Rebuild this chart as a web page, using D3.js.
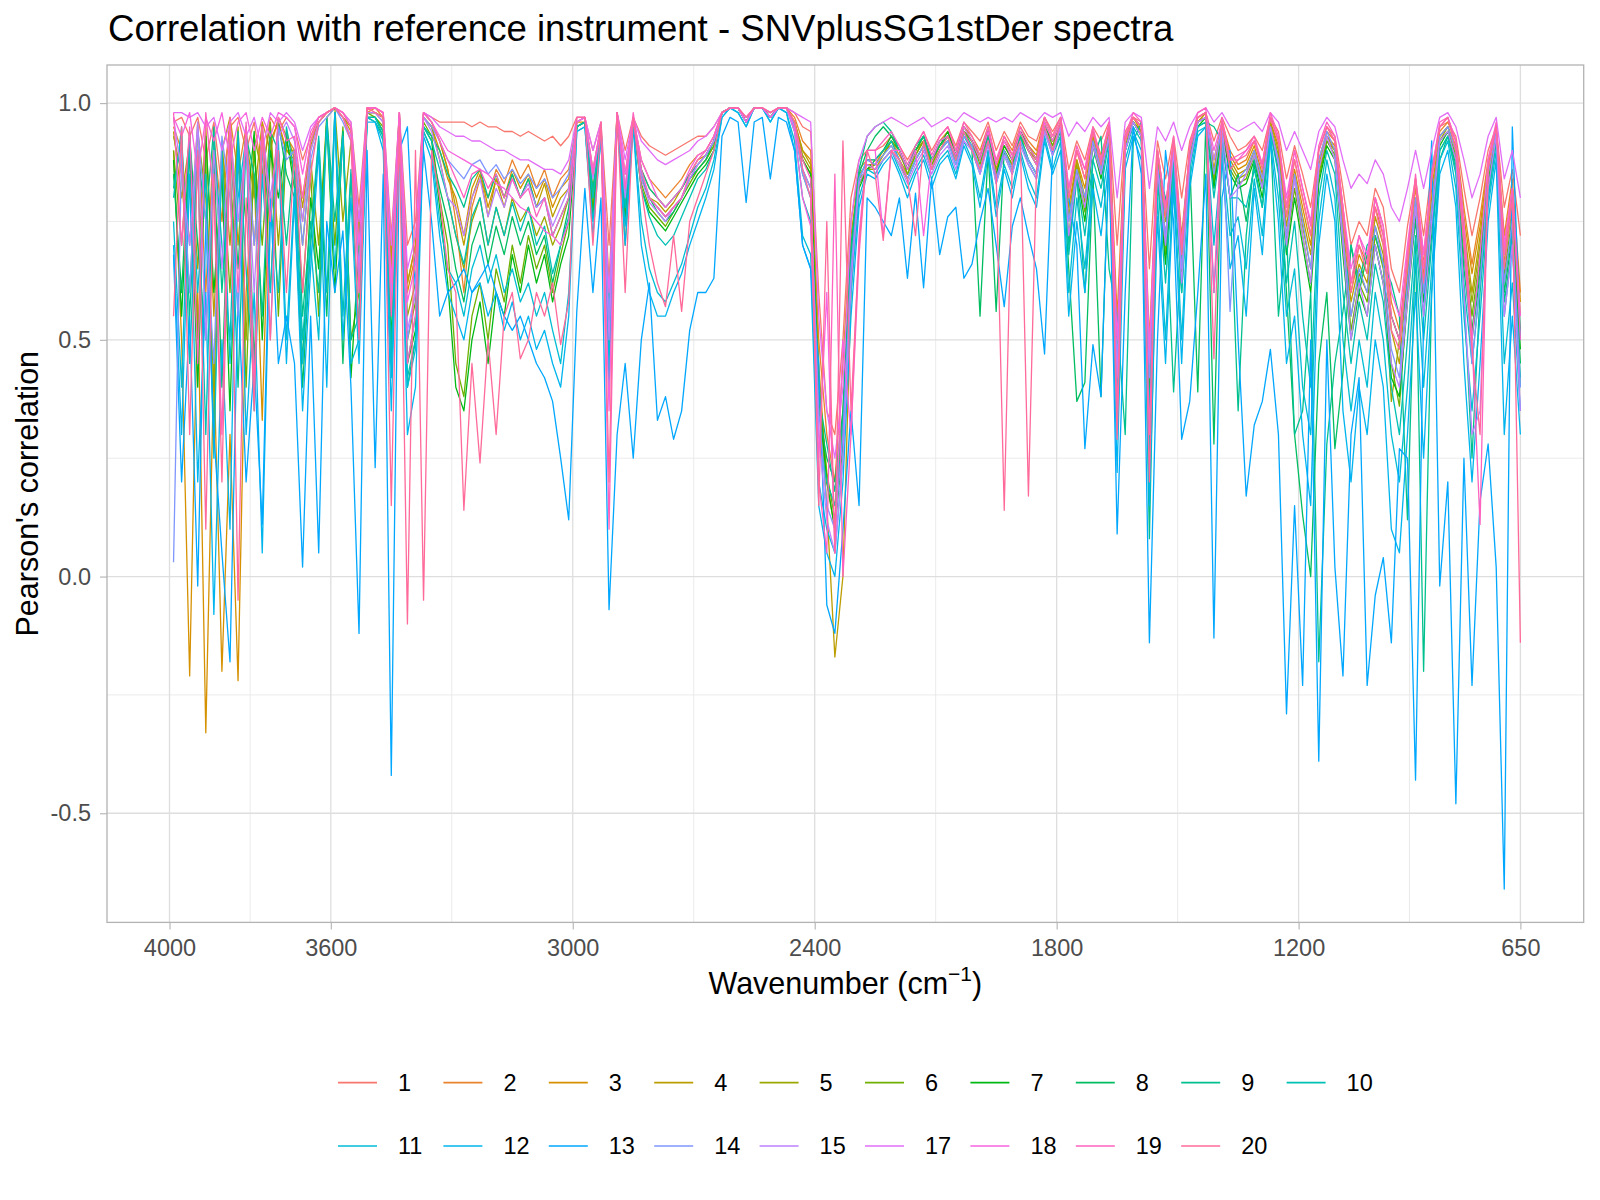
<!DOCTYPE html>
<html><head><meta charset="utf-8">
<script src="https://cdn.jsdelivr.net/npm/d3@7"></script>
<style>body{margin:0;background:#fff} text{font-family:"Liberation Sans",Arial,Helvetica,sans-serif}</style>
</head><body><svg id="chart" width="1600" height="1200"></svg>
<script>
// ---------------- DATA ----------------
const wavenumber = [
3990,3970,3950,3930,3910,3890,3870,3850,3830,3810,3790,3770,3750,3730,3710,
3690,3670,3650,3630,3610,3590,3570,3550,3530,3510,3490,3470,3450,3430,3410,3390,3370,3350,3330,3310,
3290,3270,3250,3230,3210,3190,3170,3150,3130,3110,3090,3070,3050,3030,3010,
2990,2970,2950,2930,2910,2890,2870,2850,
2830,2810,2790,2770,2750,2730,2710,2690,2670,2650,
2630,2610,2590,2570,2550,2530,2510,2490,2470,2450,2430,2410,
2390,2370,2350,2330,2310,2290,2270,
2250,2230,2210,2190,2170,2150,2130,2110,2090,2070,2050,2030,2010,1990,1970,1950,1930,1910,1890,1870,1850,1830,1810,
1790,1770,1750,1730,1710,1690,1670,1650,1630,1610,1590,1570,1550,1530,1510,1490,1470,1450,1430,1410,1390,1370,1350,1330,1310,1290,1270,1250,1230,1210,
1190,1170,1150,1130,1110,1090,1070,1050,1030,1010,990,970,950,930,910,890,870,850,830,810,790,770,750,730,710,690,670,650];

const r1 = [0.96,0.97,0.93,0.97,0.88,0.96,0.82,0.95,0.97,0.9,0.96,0.85,0.97,0.94,0.97,
0.95,0.88,0.93,0.97,0.98,0.99,0.98,0.96,0.78,0.99,0.99,0.98,0.72,0.98,0.7,0.75,0.98,0.97,0.96,0.96,
0.96,0.96,0.95,0.96,0.95,0.95,0.94,0.94,0.93,0.94,0.93,0.92,0.93,0.91,0.93,
0.97,0.97,0.9,0.96,0.7,0.98,0.9,0.97,
0.93,0.91,0.9,0.89,0.9,0.91,0.92,0.93,0.93,0.95,
0.98,0.99,0.99,0.97,0.99,0.99,0.98,0.99,0.99,0.98,0.95,0.94,
0.6,0.35,0.3,0.5,0.8,0.88,0.9,
0.9,0.91,0.93,0.91,0.88,0.91,0.94,0.9,0.93,0.95,0.91,0.96,0.94,0.92,0.96,0.9,0.94,0.91,0.96,0.93,0.92,0.97,0.94,
0.97,0.86,0.92,0.88,0.95,0.92,0.96,0.7,0.94,0.97,0.96,0.65,0.92,0.84,0.93,0.8,0.92,0.97,0.98,0.92,0.97,0.93,0.9,0.91,0.93,0.9,0.97,0.94,0.84,0.91,
0.85,0.78,0.9,0.95,0.93,0.82,0.7,0.75,0.72,0.82,0.78,0.65,0.6,0.74,0.84,0.72,0.86,0.95,0.96,0.93,0.82,0.72,0.8,0.9,0.95,0.78,0.86,0.72];

const r2 = [0.95,0.9,0.7,0.96,0.6,0.93,0.75,0.97,0.85,0.95,0.7,0.96,0.9,0.97,0.93,
0.9,0.8,0.92,0.96,0.98,0.99,0.97,0.95,0.72,0.98,0.99,0.97,0.68,0.97,0.62,0.7,0.98,0.96,0.92,0.86,
0.75,0.6,0.78,0.84,0.8,0.86,0.83,0.88,0.84,0.87,0.82,0.86,0.8,0.84,0.86,
0.96,0.97,0.86,0.95,0.62,0.98,0.85,0.97,
0.88,0.84,0.82,0.8,0.82,0.84,0.87,0.89,0.9,0.93,
0.98,0.99,0.99,0.96,0.99,0.99,0.97,0.99,0.99,0.97,0.92,0.9,
0.5,0.3,0.2,0.45,0.75,0.86,0.88,
0.88,0.9,0.92,0.89,0.86,0.9,0.93,0.88,0.92,0.94,0.9,0.95,0.93,0.9,0.95,0.87,0.93,0.9,0.95,0.92,0.9,0.97,0.93,
0.97,0.8,0.9,0.84,0.94,0.89,0.95,0.55,0.93,0.97,0.95,0.5,0.9,0.78,0.92,0.72,0.9,0.97,0.98,0.88,0.96,0.9,0.87,0.88,0.92,0.87,0.97,0.92,0.78,0.88,
0.8,0.72,0.88,0.94,0.92,0.78,0.62,0.7,0.66,0.8,0.74,0.58,0.52,0.68,0.82,0.68,0.84,0.94,0.96,0.92,0.78,0.66,0.76,0.88,0.95,0.72,0.84,0.6];

const r3 = [0.9,0.5,-0.21,0.6,-0.33,0.45,-0.2,0.3,-0.22,0.6,0.85,0.33,0.92,0.96,0.9,
0.88,0.75,0.9,0.96,0.98,0.99,0.97,0.94,0.7,0.98,0.98,0.97,0.65,0.97,0.6,0.68,0.97,0.95,0.9,0.84,
0.8,0.72,0.82,0.86,0.78,0.84,0.8,0.86,0.82,0.85,0.8,0.84,0.78,0.82,0.84,
0.96,0.96,0.78,0.95,0.55,0.97,0.7,0.97,
0.86,0.82,0.8,0.78,0.8,0.82,0.85,0.88,0.89,0.92,
0.98,0.99,0.99,0.96,0.99,0.99,0.97,0.99,0.99,0.96,0.9,0.88,
0.45,0.2,0.1,0.35,0.72,0.85,0.87,
0.87,0.9,0.91,0.88,0.85,0.89,0.92,0.87,0.91,0.93,0.89,0.94,0.92,0.89,0.94,0.86,0.92,0.89,0.94,0.91,0.89,0.96,0.92,
0.96,0.78,0.88,0.82,0.93,0.88,0.95,0.5,0.92,0.97,0.94,0.45,0.89,0.75,0.91,0.7,0.89,0.96,0.98,0.86,0.96,0.89,0.86,0.87,0.91,0.85,0.96,0.91,0.76,0.86,
0.78,0.7,0.87,0.93,0.91,0.76,0.6,0.68,0.64,0.78,0.72,0.55,0.5,0.66,0.8,0.66,0.82,0.93,0.95,0.91,0.76,0.64,0.74,0.87,0.94,0.7,0.82,0.58];

const r4 = [0.94,0.8,0.92,0.65,0.95,0.55,0.9,0.97,0.7,0.93,0.8,0.96,0.6,0.95,0.9,
0.9,0.78,0.91,0.96,0.98,0.99,0.97,0.95,0.74,0.98,0.98,0.97,0.66,0.98,0.62,0.7,0.98,0.96,0.92,0.86,
0.78,0.7,0.8,0.85,0.76,0.84,0.78,0.85,0.8,0.84,0.78,0.83,0.76,0.8,0.82,
0.96,0.97,0.82,0.95,0.58,0.98,0.8,0.97,
0.85,0.8,0.79,0.77,0.79,0.82,0.85,0.87,0.89,0.92,
0.98,0.99,0.99,0.96,0.99,0.99,0.97,0.99,0.99,0.96,0.9,0.87,
0.4,0.15,-0.17,0.0,0.6,0.84,0.86,
0.86,0.89,0.92,0.9,0.86,0.9,0.92,0.88,0.91,0.93,0.89,0.94,0.92,0.88,0.94,0.86,0.91,0.88,0.94,0.9,0.88,0.96,0.92,
0.96,0.76,0.88,0.8,0.93,0.87,0.94,0.48,0.92,0.96,0.94,0.42,0.88,0.72,0.9,0.68,0.89,0.96,0.98,0.85,0.95,0.88,0.85,0.86,0.9,0.84,0.96,0.9,0.74,0.85,
0.76,0.68,0.86,0.93,0.9,0.74,0.58,0.66,0.62,0.76,0.7,0.52,0.45,0.64,0.79,0.64,0.8,0.93,0.95,0.9,0.74,0.6,0.72,0.86,0.94,0.68,0.8,0.55];

const r5 = [0.93,0.85,0.6,0.94,0.8,0.4,0.92,0.7,0.95,0.5,0.93,0.85,0.96,0.7,0.94,
0.88,0.7,0.88,0.7,0.97,0.99,0.75,0.92,0.65,0.98,0.98,0.96,0.6,0.97,0.55,0.62,0.97,0.95,0.88,0.8,
0.72,0.65,0.75,0.8,0.7,0.78,0.72,0.8,0.75,0.78,0.72,0.76,0.7,0.74,0.8,
0.95,0.96,0.8,0.94,0.52,0.97,0.78,0.96,
0.84,0.8,0.78,0.76,0.78,0.8,0.84,0.86,0.88,0.91,
0.98,0.99,0.99,0.96,0.99,0.99,0.97,0.99,0.99,0.96,0.89,0.86,
0.42,0.2,0.15,0.32,0.68,0.83,0.86,
0.86,0.88,0.9,0.87,0.84,0.88,0.91,0.86,0.9,0.92,0.88,0.93,0.91,0.88,0.93,0.85,0.9,0.87,0.93,0.9,0.87,0.95,0.91,
0.96,0.75,0.87,0.79,0.92,0.86,0.94,0.45,0.91,0.96,0.94,0.4,0.88,0.7,0.9,0.66,0.88,0.96,0.97,0.84,0.95,0.87,0.84,0.85,0.9,0.83,0.95,0.89,0.72,0.84,
0.74,0.65,0.85,0.92,0.9,0.72,0.55,0.64,0.6,0.74,0.68,0.37,0.5,0.62,0.78,0.62,0.78,0.92,0.95,0.9,0.72,0.58,0.7,0.85,0.93,0.66,0.78,0.52];

const r6 = [0.9,0.7,0.94,0.5,0.88,0.3,0.9,0.6,0.93,0.4,0.9,0.7,0.95,0.55,0.92,
0.85,0.6,0.85,0.55,0.97,0.7,0.95,0.5,0.6,0.98,0.97,0.95,0.55,0.96,0.5,0.58,0.96,0.93,0.8,0.7,
0.45,0.38,0.55,0.62,0.5,0.65,0.58,0.7,0.62,0.72,0.65,0.7,0.6,0.68,0.75,
0.95,0.96,0.78,0.94,0.5,0.97,0.76,0.96,
0.83,0.78,0.76,0.74,0.77,0.8,0.83,0.86,0.88,0.91,
0.98,0.99,0.99,0.96,0.99,0.99,0.97,0.99,0.99,0.95,0.88,0.85,
0.4,0.22,0.12,0.3,0.66,0.83,0.86,
0.87,0.89,0.92,0.9,0.85,0.89,0.92,0.87,0.9,0.93,0.88,0.94,0.92,0.87,0.94,0.84,0.9,0.87,0.94,0.9,0.87,0.95,0.91,
0.95,0.72,0.86,0.77,0.92,0.85,0.93,0.42,0.9,0.96,0.93,0.38,0.87,0.68,0.89,0.64,0.88,0.96,0.97,0.83,0.94,0.86,0.83,0.84,0.89,0.82,0.95,0.88,0.7,0.82,
0.72,0.62,0.84,0.92,0.89,0.7,0.52,0.62,0.58,0.72,0.65,0.45,0.36,0.6,0.77,0.6,0.76,0.92,0.94,0.89,0.7,0.55,0.68,0.84,0.93,0.64,0.76,0.5];

const r7 = [0.88,0.55,0.9,0.4,0.93,0.6,0.85,0.35,0.9,0.75,0.94,0.5,0.9,0.8,0.93,
0.82,0.45,0.8,0.65,0.96,0.6,0.94,0.42,0.7,0.97,0.97,0.94,0.5,0.95,0.45,0.52,0.95,0.92,0.78,0.62,
0.4,0.35,0.5,0.58,0.45,0.6,0.55,0.68,0.6,0.7,0.62,0.68,0.58,0.66,0.72,
0.95,0.96,0.76,0.94,0.48,0.97,0.75,0.96,
0.82,0.77,0.75,0.73,0.76,0.79,0.82,0.85,0.87,0.9,
0.98,0.99,0.99,0.96,0.99,0.99,0.97,0.99,0.99,0.95,0.88,0.85,
0.38,0.2,0.1,0.28,0.64,0.82,0.86,
0.88,0.9,0.93,0.9,0.86,0.9,0.93,0.88,0.91,0.94,0.89,0.95,0.92,0.88,0.94,0.85,0.91,0.88,0.94,0.91,0.88,0.95,0.92,
0.95,0.7,0.85,0.75,0.91,0.84,0.93,0.4,0.9,0.96,0.93,0.36,0.86,0.66,0.88,0.62,0.87,0.95,0.97,0.82,0.94,0.85,0.82,0.83,0.88,0.8,0.95,0.87,0.68,0.8,
0.7,0.6,0.83,0.91,0.88,0.68,0.5,0.6,0.55,0.7,0.62,0.42,0.38,0.58,0.76,0.58,0.75,0.91,0.94,0.88,0.68,0.52,0.66,0.83,0.92,0.62,0.74,0.48];

const r8 = [0.85,0.6,0.93,0.7,0.5,0.9,0.4,0.92,0.65,0.95,0.45,0.9,0.75,0.96,0.85,
0.8,0.4,0.7,0.92,0.55,0.98,0.45,0.85,0.5,0.97,0.96,0.93,0.45,0.94,0.4,0.5,0.94,0.9,0.82,0.75,
0.65,0.58,0.7,0.75,0.66,0.74,0.68,0.76,0.7,0.75,0.68,0.72,0.62,0.7,0.78,
0.95,0.96,0.8,0.94,0.5,0.97,0.78,0.96,
0.84,0.8,0.77,0.75,0.77,0.8,0.84,0.86,0.88,0.92,
0.98,0.99,0.99,0.96,0.99,0.99,0.97,0.99,0.99,0.95,0.86,0.82,
0.35,0.25,0.2,0.35,0.7,0.85,0.9,
0.93,0.95,0.93,0.9,0.86,0.9,0.93,0.88,0.91,0.93,0.88,0.94,0.9,0.55,0.9,0.56,0.9,0.86,0.93,0.88,0.85,0.95,0.9,
0.94,0.65,0.37,0.41,0.85,0.38,0.9,0.34,0.9,0.96,0.93,0.45,0.85,0.7,0.88,0.6,0.88,0.39,0.96,0.28,0.93,0.8,0.85,0.75,0.87,0.78,0.94,0.86,0.6,0.3,
0.13,0.0,0.45,0.6,0.27,0.43,0.7,0.6,0.68,0.7,0.62,0.55,0.5,0.62,0.75,0.55,0.72,0.9,0.93,0.87,0.65,0.5,0.64,0.82,0.92,0.6,0.72,0.45];

const r9 = [0.82,0.93,0.55,0.9,0.75,0.95,0.6,0.88,0.4,0.93,0.85,0.55,0.94,0.9,0.7,
0.9,0.55,0.75,0.6,0.97,0.75,0.94,0.5,0.55,0.97,0.97,0.94,0.48,0.95,0.45,0.55,0.95,0.93,0.9,0.85,
0.82,0.78,0.84,0.86,0.8,0.85,0.8,0.85,0.8,0.84,0.78,0.8,0.72,0.76,0.8,
0.95,0.96,0.82,0.94,0.55,0.97,0.8,0.96,
0.86,0.82,0.8,0.78,0.8,0.82,0.85,0.87,0.89,0.92,
0.98,0.99,0.99,0.96,0.99,0.99,0.97,0.99,0.99,0.95,0.85,0.8,
0.38,0.28,0.18,0.33,0.68,0.86,0.93,
0.95,0.96,0.94,0.9,0.86,0.91,0.93,0.88,0.92,0.93,0.88,0.94,0.91,0.86,0.93,0.84,0.9,0.86,0.93,0.88,0.85,0.95,0.9,
0.93,0.7,0.85,0.6,0.88,0.93,0.65,0.55,0.3,0.92,0.96,0.08,0.86,0.8,0.39,0.7,0.9,0.95,0.96,0.95,0.92,0.8,0.35,0.72,0.88,0.82,0.94,0.55,0.73,0.3,
0.35,0.6,-0.18,0.28,0.45,0.56,0.7,0.62,0.7,0.72,0.66,0.62,0.55,0.12,0.7,-0.2,0.6,0.88,0.93,0.86,0.6,0.25,0.6,0.8,0.92,0.58,0.7,0.4];

const r10 = [0.8,0.95,0.45,0.88,0.3,0.92,0.7,0.5,0.94,0.65,0.4,0.93,0.8,0.6,0.95,
0.85,0.5,0.72,0.93,0.6,0.98,0.55,0.86,0.52,0.97,0.97,0.93,0.45,0.95,0.42,0.5,0.95,0.92,0.86,0.8,
0.72,0.66,0.76,0.8,0.7,0.78,0.72,0.79,0.73,0.78,0.7,0.74,0.64,0.7,0.76,
0.95,0.96,0.8,0.94,0.5,0.97,0.78,0.96,
0.82,0.76,0.72,0.7,0.72,0.76,0.8,0.84,0.86,0.9,
0.98,0.99,0.99,0.96,0.99,0.99,0.97,0.99,0.99,0.94,0.8,0.75,
0.3,0.2,0.15,0.3,0.65,0.84,0.88,
0.88,0.9,0.92,0.88,0.84,0.88,0.91,0.86,0.9,0.92,0.87,0.93,0.9,0.85,0.92,0.83,0.89,0.85,0.92,0.87,0.84,0.94,0.89,
0.93,0.68,0.84,0.72,0.88,0.82,0.92,0.4,0.9,0.95,0.92,0.35,0.84,0.62,0.87,0.6,0.86,0.95,0.96,0.8,0.93,0.8,0.8,0.78,0.86,0.78,0.94,0.85,0.62,0.75,
0.55,0.4,0.8,0.9,0.85,0.6,0.45,0.58,0.5,0.66,0.58,0.4,0.3,0.5,0.72,0.5,0.7,0.9,0.93,0.85,0.62,0.45,0.62,0.8,0.92,0.55,0.7,0.42];

const r11 = [0.75,0.4,0.92,0.6,0.85,0.25,0.9,0.45,0.8,0.93,0.35,0.85,0.6,0.92,0.5,
0.82,0.45,0.7,0.5,0.96,0.65,0.93,0.45,0.5,0.97,0.96,0.92,0.42,0.94,0.4,0.48,0.94,0.9,0.75,0.65,
0.62,0.55,0.65,0.7,0.62,0.68,0.6,0.65,0.58,0.62,0.55,0.6,0.52,0.45,0.6,
0.94,0.95,0.75,0.93,0.45,0.97,0.74,0.95,
0.75,0.65,0.6,0.58,0.62,0.66,0.72,0.78,0.82,0.88,
0.97,0.99,0.98,0.95,0.99,0.99,0.96,0.99,0.98,0.92,0.72,0.68,
0.2,0.1,0.05,0.25,0.6,0.8,0.86,
0.85,0.88,0.9,0.86,0.82,0.86,0.89,0.84,0.88,0.9,0.85,0.92,0.88,0.8,0.9,0.78,0.87,0.82,0.9,0.84,0.8,0.93,0.86,
0.92,0.6,0.8,0.65,0.85,0.78,0.9,0.3,0.88,0.94,0.9,0.25,0.8,0.5,0.85,0.5,0.84,0.94,0.95,0.7,0.9,0.72,0.76,0.65,0.84,0.72,0.93,0.8,0.55,0.65,
0.4,0.3,0.75,0.88,0.8,0.5,0.35,0.5,0.4,0.6,0.5,0.3,0.2,0.4,0.68,0.4,0.65,0.88,0.92,0.82,0.55,0.35,0.55,0.78,0.9,0.45,0.62,0.35];

const r12 = [0.7,0.3,0.85,0.2,0.6,-0.08,0.5,0.1,0.92,0.3,0.6,0.05,0.75,0.9,0.45,
0.8,0.35,0.65,0.9,0.4,0.98,0.5,0.8,0.45,0.96,0.96,0.9,0.35,0.93,0.3,0.4,0.93,0.88,0.72,0.6,
0.55,0.5,0.6,0.62,0.55,0.6,0.52,0.58,0.5,0.55,0.48,0.52,0.45,0.4,0.55,
0.94,0.95,0.72,0.93,0.4,0.97,0.7,0.95,
0.7,0.6,0.55,0.55,0.6,0.64,0.7,0.75,0.8,0.86,
0.97,0.99,0.98,0.95,0.99,0.99,0.96,0.99,0.98,0.9,0.7,0.65,
0.15,0.05,0.0,0.2,0.55,0.78,0.85,
0.84,0.87,0.89,0.85,0.8,0.85,0.88,0.82,0.87,0.89,0.84,0.91,0.87,0.78,0.89,0.76,0.86,0.8,0.89,0.82,0.78,0.92,0.85,
0.9,0.55,0.75,0.6,0.82,0.72,0.88,0.22,0.86,0.93,0.88,0.15,0.76,0.45,0.82,0.45,0.82,0.93,0.95,0.6,0.88,0.65,0.72,0.55,0.82,0.68,0.92,0.75,0.45,0.55,
0.3,0.15,0.7,0.85,0.75,0.35,0.2,0.4,0.3,0.5,0.4,0.1,0.05,0.3,0.6,0.25,0.6,0.85,0.9,0.78,0.45,0.2,0.45,0.75,0.88,0.3,0.55,0.3];

const r13 = [0.68,0.2,0.55,-0.02,0.75,0.3,0.05,-0.18,0.6,0.2,0.45,0.11,0.8,0.45,0.55,
0.45,0.02,0.55,0.05,0.75,0.6,0.73,0.4,-0.12,0.9,0.23,0.85,-0.42,0.9,0.95,0.6,0.9,0.75,0.55,0.6,
0.62,0.65,0.6,0.63,0.66,0.6,0.55,0.52,0.55,0.5,0.45,0.42,0.37,0.25,0.12,
0.56,0.82,0.6,0.8,-0.07,0.3,0.45,0.25,
0.5,0.62,0.33,0.38,0.29,0.35,0.52,0.6,0.6,0.63,
0.93,0.97,0.96,0.79,0.96,0.97,0.84,0.97,0.96,0.9,0.7,0.65,
0.45,-0.06,-0.12,0.1,0.35,0.15,0.8,
0.78,0.75,0.72,0.8,0.63,0.81,0.61,0.84,0.68,0.76,0.78,0.63,0.66,0.75,0.82,0.7,0.57,0.74,0.8,0.72,0.65,0.47,0.9,
0.95,0.8,0.7,0.27,0.49,0.38,0.9,0.09,0.6,0.95,0.85,-0.14,0.5,0.9,0.75,0.29,0.37,0.6,0.85,-0.13,0.8,0.9,0.5,0.17,0.32,0.37,0.48,0.3,-0.29,0.15,
-0.23,0.5,-0.39,0.5,0.02,-0.21,0.3,0.42,-0.23,-0.04,0.04,-0.14,0.27,0.25,-0.43,0.55,0.92,-0.02,0.2,-0.48,0.25,-0.23,0.16,0.28,0.02,-0.66,0.95,0.5];

const r14 = [0.03,0.9,0.6,0.95,0.75,0.45,0.93,0.8,0.55,0.94,0.7,0.92,0.5,0.95,0.88,
0.9,0.7,0.88,0.95,0.97,0.99,0.96,0.92,0.62,0.98,0.98,0.96,0.58,0.97,0.5,0.6,0.97,0.95,0.92,0.88,
0.86,0.84,0.87,0.88,0.85,0.87,0.84,0.86,0.83,0.85,0.82,0.84,0.8,0.82,0.85,
0.96,0.97,0.85,0.95,0.55,0.98,0.82,0.97,
0.85,0.8,0.78,0.76,0.78,0.8,0.84,0.87,0.89,0.92,
0.98,0.99,0.99,0.96,0.99,0.99,0.97,0.99,0.99,0.95,0.85,0.8,
0.35,0.15,0.1,0.3,0.65,0.84,0.88,
0.87,0.89,0.91,0.88,0.84,0.88,0.91,0.86,0.9,0.92,0.87,0.93,0.91,0.86,0.92,0.84,0.9,0.86,0.92,0.88,0.85,0.95,0.9,
0.95,0.75,0.86,0.8,0.92,0.86,0.93,0.45,0.9,0.96,0.93,0.42,0.87,0.72,0.9,0.65,0.88,0.96,0.97,0.85,0.95,0.56,0.84,0.86,0.9,0.84,0.95,0.88,0.72,0.85,
0.75,0.65,0.88,0.94,0.9,0.72,0.55,0.65,0.6,0.74,0.66,0.48,0.42,0.62,0.8,0.6,0.78,0.93,0.95,0.9,0.7,0.45,0.62,0.85,0.94,0.62,0.75,0.4];

const r15 = [0.97,0.85,0.7,0.96,0.5,0.9,0.65,0.95,0.75,0.92,0.6,0.95,0.8,0.93,0.96,
0.92,0.75,0.9,0.96,0.98,0.99,0.97,0.93,0.65,0.98,0.98,0.96,0.6,0.97,0.52,0.6,0.97,0.94,0.88,0.8,
0.78,0.72,0.8,0.84,0.76,0.82,0.78,0.84,0.8,0.83,0.78,0.8,0.74,0.78,0.82,
0.96,0.97,0.84,0.95,0.5,0.98,0.8,0.97,
0.84,0.79,0.77,0.75,0.78,0.8,0.84,0.87,0.89,0.92,
0.98,0.99,0.99,0.96,0.99,0.99,0.97,0.99,0.99,0.95,0.86,0.82,
0.3,0.12,0.05,0.25,0.62,0.83,0.87,
0.86,0.88,0.9,0.87,0.83,0.87,0.9,0.85,0.89,0.91,0.86,0.92,0.9,0.85,0.91,0.83,0.89,0.85,0.91,0.87,0.84,0.94,0.89,
0.95,0.72,0.85,0.78,0.91,0.85,0.93,0.42,0.9,0.96,0.93,0.45,0.86,0.7,0.9,0.62,0.87,0.96,0.97,0.88,0.95,0.8,0.82,0.85,0.89,0.82,0.95,0.87,0.7,0.84,
0.72,0.62,0.86,0.93,0.88,0.7,0.5,0.62,0.55,0.7,0.62,0.45,0.4,0.58,0.78,0.55,0.75,0.92,0.94,0.88,0.6,0.3,0.35,0.82,0.93,0.55,0.7,0.35];

const r17 = [0.98,0.98,0.97,0.98,0.95,0.97,0.9,0.96,0.98,0.93,0.97,0.9,0.98,0.96,0.98,
0.96,0.9,0.95,0.97,0.98,0.99,0.98,0.96,0.75,0.99,0.99,0.98,0.7,0.98,0.65,0.72,0.98,0.97,0.95,0.94,
0.93,0.93,0.92,0.92,0.91,0.9,0.9,0.89,0.88,0.88,0.87,0.86,0.86,0.85,0.88,
0.97,0.97,0.9,0.96,0.6,0.98,0.88,0.97,
0.92,0.9,0.88,0.87,0.88,0.89,0.9,0.92,0.93,0.95,
0.98,0.99,0.99,0.97,0.99,0.99,0.98,0.99,0.99,0.98,0.97,0.96,
0.55,0.35,0.25,0.4,0.75,0.88,0.93,
0.95,0.96,0.97,0.96,0.95,0.96,0.97,0.95,0.96,0.97,0.96,0.98,0.97,0.96,0.97,0.96,0.97,0.96,0.98,0.97,0.96,0.98,0.97,
0.98,0.93,0.96,0.94,0.97,0.95,0.97,0.8,0.96,0.98,0.97,0.82,0.95,0.92,0.96,0.9,0.95,0.98,0.99,0.96,0.98,0.95,0.94,0.95,0.96,0.94,0.98,0.96,0.9,0.94,
0.9,0.86,0.94,0.97,0.95,0.88,0.82,0.85,0.83,0.88,0.85,0.78,0.75,0.82,0.9,0.82,0.9,0.97,0.98,0.95,0.88,0.8,0.85,0.93,0.97,0.84,0.9,0.8];

const r18 = [0.97,0.93,0.98,0.85,0.97,0.92,0.98,0.88,0.96,0.98,0.9,0.97,0.93,0.98,0.97,
0.95,0.85,0.94,0.97,0.98,0.99,0.98,0.95,0.7,0.99,0.99,0.98,0.62,0.98,0.58,0.66,0.98,0.96,0.93,0.9,
0.89,0.88,0.87,0.86,0.85,0.83,0.82,0.8,0.78,0.77,0.75,0.73,0.72,0.7,0.75,
0.96,0.97,0.86,0.95,0.35,0.98,0.85,0.97,
0.88,0.84,0.8,0.78,0.8,0.82,0.86,0.89,0.9,0.93,
0.98,0.99,0.99,0.96,0.99,0.99,0.97,0.99,0.99,0.94,0.8,0.74,
0.25,0.6,0.05,0.5,0.3,0.72,0.9,
0.9,0.72,0.9,0.9,0.86,0.9,0.72,0.88,0.92,0.93,0.89,0.95,0.92,0.88,0.94,0.87,0.92,0.88,0.94,0.9,0.87,0.96,0.92,
0.96,0.82,0.9,0.86,0.94,0.88,0.95,0.5,0.92,0.97,0.95,0.48,0.9,0.78,0.92,0.7,0.9,0.97,0.98,0.9,0.96,0.88,0.88,0.9,0.92,0.87,0.97,0.92,0.8,0.9,
0.82,0.75,0.9,0.95,0.92,0.78,0.65,0.72,0.68,0.8,0.74,0.6,0.55,0.7,0.84,0.68,0.84,0.95,0.97,0.92,0.75,0.5,0.68,0.88,0.95,0.7,0.82,0.55];

const r19 = [0.98,0.7,0.95,0.45,0.98,0.8,0.3,0.97,0.6,0.96,0.4,0.95,0.75,0.97,0.92,
0.93,0.8,0.92,0.97,0.98,0.99,0.98,0.95,0.6,0.99,0.99,0.98,0.55,0.98,0.45,0.55,0.98,0.96,0.92,0.88,
0.84,0.8,0.85,0.86,0.82,0.85,0.8,0.84,0.8,0.82,0.76,0.8,0.72,0.76,0.8,
0.97,0.97,0.85,0.96,0.1,0.98,0.82,0.98,
0.86,0.8,0.78,0.76,0.78,0.8,0.85,0.88,0.9,0.93,
0.98,0.99,0.99,0.97,0.99,0.99,0.98,0.99,0.99,0.96,0.88,0.84,
0.2,0.05,0.85,0.0,0.3,0.68,0.9,
0.9,0.92,0.94,0.91,0.87,0.91,0.94,0.89,0.93,0.95,0.9,0.96,0.93,0.89,0.95,0.88,0.93,0.89,0.95,0.91,0.88,0.97,0.93,
0.97,0.82,0.91,0.86,0.95,0.88,0.96,0.35,0.93,0.98,0.96,0.3,0.9,0.78,0.93,0.7,0.91,0.98,0.99,0.6,0.97,0.88,0.89,0.9,0.93,0.87,0.98,0.93,0.78,0.9,
0.82,0.74,0.91,0.96,0.93,0.78,0.62,0.72,0.66,0.8,0.72,0.55,0.5,0.68,0.85,0.65,0.85,0.96,0.97,0.92,0.72,0.5,0.11,0.88,0.96,0.68,0.82,0.5];

const r20 = [0.55,0.95,0.3,0.9,0.1,0.85,0.2,0.92,-0.05,0.8,0.35,0.95,0.5,0.9,0.6,
0.9,0.6,0.85,0.96,0.98,0.99,0.97,0.92,0.5,0.99,0.98,0.97,0.15,0.95,-0.1,0.9,-0.05,0.9,0.8,0.65,
0.6,0.14,0.45,0.24,0.5,0.3,0.55,0.6,0.46,0.5,0.6,0.55,0.62,0.49,0.58,
0.97,0.97,0.7,0.96,0.2,0.98,0.6,0.97,
0.82,0.7,0.62,0.57,0.72,0.56,0.75,0.8,0.85,0.9,
0.98,0.99,0.99,0.97,0.99,0.99,0.98,0.99,0.99,0.96,0.86,0.8,
0.15,0.75,0.05,0.92,0.35,0.7,0.9,
0.85,0.71,0.9,0.88,0.84,0.72,0.92,0.86,0.9,0.93,0.88,0.94,0.9,0.86,0.92,0.85,0.14,0.88,0.92,0.17,0.86,0.95,0.9,
0.96,0.8,0.9,0.84,0.94,0.87,0.95,0.29,0.92,0.97,0.95,0.2,0.9,0.76,0.92,0.68,0.9,0.97,0.98,0.46,0.96,0.86,0.88,0.89,0.92,0.86,0.97,0.92,0.76,0.88,
0.8,0.72,0.9,0.95,0.92,0.76,0.6,0.7,0.64,0.78,0.7,0.52,0.48,0.66,0.84,0.62,0.84,0.95,0.97,0.9,0.7,0.48,0.3,0.86,0.95,0.65,0.8,-0.14];

const seriesLabels = ["1","2","3","4","5","6","7","8","9","10","11","12","13","14","15","17","18","19","20"];
const seriesValues = [r1,r2,r3,r4,r5,r6,r7,r8,r9,r10,r11,r12,r13,r14,r15,r17,r18,r19,r20];
const xTicks = [4000,3600,3000,2400,1800,1200,650];
const xMinor = [3800,3300,2700,2100,1500,925];
const yTicks = [-0.5,0,0.5,1.0];
const yMinor = [-0.25,0.25,0.75];

// ---------------- COLOURS (ggplot2 default hue palette, HCL polarLUV) ----------------
function hclHex(h, c, l) {
  const hr = h*Math.PI/180, U = c*Math.cos(hr), V = c*Math.sin(hr);
  const Xn=95.047, Yn=100, Zn=108.883;
  const Y = l > 7.999592 ? Yn*Math.pow((l+16)/116,3) : Yn*l/903.3;
  const den = Xn+15*Yn+3*Zn, un = 4*Xn/den, vn = 9*Yn/den;
  const u = U/(13*l)+un, v = V/(13*l)+vn;
  const X = 9*Y*u/(4*v), Z = -X/3 - 5*Y + 3*Y/v;
  const x=X/100, y=Y/100, z=Z/100;
  const r = 3.240479*x - 1.537150*y - 0.498535*z;
  const g = -0.969256*x + 1.875992*y + 0.041556*z;
  const b = 0.055648*x - 0.204043*y + 1.057311*z;
  const gam = t => { t = t<=0.0031308 ? 12.92*t : 1.055*Math.pow(t,1/2.4)-0.055; return Math.round(255*Math.max(0,Math.min(1,t))); };
  return d3.rgb(gam(r),gam(g),gam(b)).formatHex();
}
const nS = seriesLabels.length;
const colors = seriesLabels.map((d,i) => hclHex(15 + i*360/nS, 100, 65));

// ---------------- LAYOUT ----------------
const svg = d3.select("#chart");
const P = {l:107, t:65, r:1583.7, b:922.4};
const x = d3.scaleLinear().domain([4155, 493]).range([P.l, P.r]);
const y = d3.scaleLinear().domain([-0.7305, 1.0805]).range([P.b, P.t]);
const FONT = '"Liberation Sans",Arial,Helvetica,sans-serif';

svg.append("rect").attr("width",1600).attr("height",1200).attr("fill","#fff");

// grid
const grid = svg.append("g");
grid.selectAll(".ymin").data(yMinor).join("line")
  .attr("x1",P.l).attr("x2",P.r).attr("y1",d=>y(d)).attr("y2",d=>y(d))
  .attr("stroke","#E6E6E6").attr("stroke-width",0.8);
grid.selectAll(".xmin").data(xMinor).join("line")
  .attr("y1",P.t).attr("y2",P.b).attr("x1",d=>x(d)).attr("x2",d=>x(d))
  .attr("stroke","#E6E6E6").attr("stroke-width",0.8);
grid.selectAll(".ymaj").data(yTicks).join("line")
  .attr("x1",P.l).attr("x2",P.r).attr("y1",d=>y(d)).attr("y2",d=>y(d))
  .attr("stroke","#DEDEDE").attr("stroke-width",1.3);
grid.selectAll(".xmaj").data(xTicks).join("line")
  .attr("y1",P.t).attr("y2",P.b).attr("x1",d=>x(d)).attr("x2",d=>x(d))
  .attr("stroke","#DEDEDE").attr("stroke-width",1.3);

// lines
const line = d3.line().x((d,i)=>x(wavenumber[i])).y(d=>y(d)).defined(d=>d!=null && !isNaN(d));
const lg = svg.append("g");
seriesValues.forEach((vals,k) => {
  lg.append("path").datum(vals.slice(0, wavenumber.length))
    .attr("d", line).attr("fill","none").attr("stroke",colors[k])
    .attr("stroke-width",1.3).attr("stroke-linejoin","round");
});

// panel border
svg.append("rect").attr("x",P.l).attr("y",P.t).attr("width",P.r-P.l).attr("height",P.b-P.t)
  .attr("fill","none").attr("stroke","#B3B3B3").attr("stroke-width",1.3);

// axes
const xAxis = svg.append("g").attr("transform",`translate(0,${P.b})`)
  .call(d3.axisBottom(x).tickValues(xTicks).tickSize(7).tickPadding(9.5).tickFormat(d=>String(d)));
const yAxis = svg.append("g").attr("transform",`translate(${P.l},0)`)
  .call(d3.axisLeft(y).tickValues(yTicks).tickSize(7).tickPadding(9).tickFormat(d=>d.toFixed(1)));
[xAxis,yAxis].forEach(a => {
  a.select(".domain").remove();
  a.selectAll(".tick line").attr("stroke","#B3B3B3").attr("stroke-width",1.1);
  a.selectAll(".tick text").attr("fill","#4D4D4D").style("font-size","23.5px").style("font-family",FONT);
});

// titles
svg.append("text").attr("x",108).attr("y",40.5).text("Correlation with reference instrument - SNVplusSG1stDer spectra")
  .style("font-size","36.6px").style("font-family",FONT).attr("fill","#000");
const xt = svg.append("text").attr("x",(P.l+P.r)/2).attr("y",994).attr("text-anchor","middle")
  .style("font-size","30.5px").style("font-family",FONT).attr("fill","#000");
xt.append("tspan").text("Wavenumber (cm");
xt.append("tspan").text("\u22121").attr("dy",-13).style("font-size","21px");
xt.append("tspan").text(")").attr("dy",13);
svg.append("text").attr("transform",`translate(37.5,${(P.t+P.b)/2}) rotate(-90)`).attr("text-anchor","middle")
  .text("Pearson's correlation").style("font-size","30.5px").style("font-family",FONT).attr("fill","#000");

// legend
const leg = svg.append("g");
seriesLabels.forEach((lab,i) => {
  const row = i < 10 ? 0 : 1, col = i < 10 ? i : i-10;
  const kx = 338 + col*105.4, ky = row===0 ? 1082.6 : 1146;
  leg.append("line").attr("x1",kx).attr("x2",kx+39).attr("y1",ky).attr("y2",ky)
    .attr("stroke",colors[i]).attr("stroke-width",1.6);
  leg.append("text").attr("x",kx+60).attr("y",ky).attr("dy","0.36em").text(lab)
    .style("font-size","23.5px").style("font-family",FONT).attr("fill","#000");
});
</script></body></html>
